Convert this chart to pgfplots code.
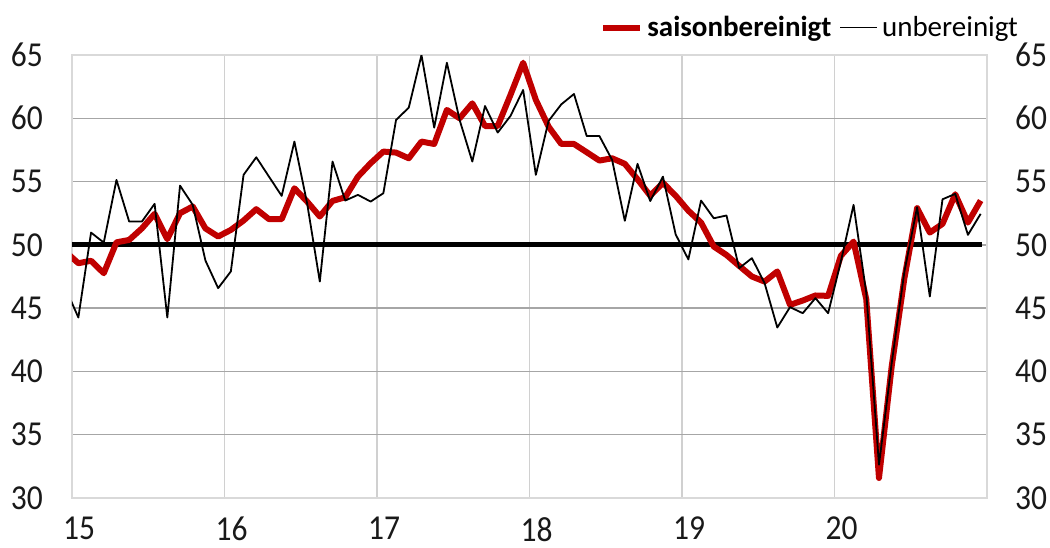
\documentclass[border=0pt]{standalone}
\usepackage{fontspec}
\setmainfont{Carlito}
\newfontfamily\tickfont{Carlito}[FakeStretch=0.9]
\usepackage{pgfplots}
\usepackage{pgfplotstable}
\pgfplotsset{compat=1.18}
\definecolor{bbred}{RGB}{192,0,0}
\definecolor{gridh}{RGB}{166,166,166}
\definecolor{gridv}{RGB}{208,208,208}
\definecolor{frame}{RGB}{217,217,217}

\pgfplotstableread{
m sa nsa
-1 49.45 46.55
0 48.55 44.26
1 48.74 50.97
2 47.76 50.18
3 50.20 55.13
4 50.39 51.84
5 51.30 51.84
6 52.45 53.24
7 50.45 44.26
8 52.50 54.68
9 53.03 53.16
10 51.30 48.76
11 50.66 46.58
12 51.18 47.90
13 51.92 55.53
14 52.82 56.92
15 52.03 55.39
16 52.03 53.87
17 54.47 58.16
18 53.42 53.29
19 52.24 47.10
20 53.47 56.58
21 53.76 53.50
22 55.39 53.95
23 56.45 53.42
24 57.37 54.08
25 57.29 59.87
26 56.84 60.84
27 58.16 65.00
28 57.97 59.26
29 60.66 64.39
30 60.00 59.87
31 61.18 56.58
32 59.39 60.97
33 59.39 58.87
34 61.84 60.18
35 64.39 62.24
36 61.45 55.53
37 59.34 59.79
38 57.97 61.10
39 57.97 61.92
40 57.32 58.60
41 56.66 58.60
42 56.84 56.71
43 56.40 51.90
44 55.18 56.40
45 53.88 53.46
46 54.90 55.39
47 53.88 50.83
48 52.70 48.85
49 51.76 53.50
50 49.87 52.10
51 49.20 52.32
52 48.34 48.16
53 47.50 48.95
54 47.10 46.97
55 47.90 43.47
56 45.26 45.08
57 45.60 44.60
58 46.00 45.79
59 45.97 44.60
60 49.13 48.68
61 50.26 53.16
62 45.70 46.20
63 31.58 32.63
64 40.40 40.66
65 47.37 47.89
66 52.90 52.97
67 50.97 45.92
68 51.66 53.60
69 54.00 54.03
70 51.76 50.79
71 53.50 52.45
}\data

\begin{document}
\begin{tikzpicture}
\useasboundingbox (-72bp,-50bp) rectangle (978bp,498bp);
\begin{axis}[
  scale only axis, width=915bp, height=443bp,
  xmin=15, xmax=21, ymin=30, ymax=65,
  xtick={15,16,17,18,19,20}, ytick={30,35,40,45,50,55,60,65},
  xticklabels={15,16,17,18,19,20},
  major tick length=0pt,
  grid=major,
  x grid style={gridv, line width=1.3bp},
  y grid style={gridh, line width=1.3bp},
  axis line style={frame, line width=1.3bp},
  /pgf/number format/assume math mode=true,
  ticklabel style={font=\tickfont\fontsize{35bp}{40bp}\selectfont, text=black!90, inner sep=0pt},
  yticklabel style={anchor=east, xshift=-29bp},
  xticklabel style={anchor=north, xshift=7bp, yshift=-19bp},
  legend style={draw=none, fill=none, at={(1.0339,1.062)}, anchor=east,
    legend columns=2, font=\fontsize{29bp}{32bp}\selectfont,
    inner sep=0pt, nodes={inner sep=0pt}, column sep=4bp,
    /tikz/every even column/.append style={column sep=8bp}},
  legend image code/.code={\draw[#1] (0bp,0bp) -- (37bp,0bp);},
]
\addplot[black, line width=5bp, forget plot] coordinates {(15,50) (20.965,50)};
\addplot[bbred, line width=6bp, line join=round] table[x expr={15+(\thisrow{m}+0.5)/12}, y=sa] {\data};
\addlegendentry{\textbf{saisonbereinigt}}
\addplot[black, line width=1.8bp, line join=round] table[x expr={15+(\thisrow{m}+0.5)/12}, y=nsa] {\data};
\addlegendentry{unbereinigt}
\end{axis}
\begin{axis}[
  scale only axis, width=915bp, height=443bp,
  xmin=15, xmax=21, ymin=30, ymax=65,
  axis x line=none, axis y line*=right,
  ytick={30,35,40,45,50,55,60,65},
  major tick length=0pt,
  axis line style={frame, line width=1.3bp},
  /pgf/number format/assume math mode=true,
  ticklabel style={font=\tickfont\fontsize{35bp}{40bp}\selectfont, text=black!90, inner sep=0pt},
  yticklabel style={anchor=west, xshift=28bp},
]
\end{axis}
\end{tikzpicture}
\end{document}
